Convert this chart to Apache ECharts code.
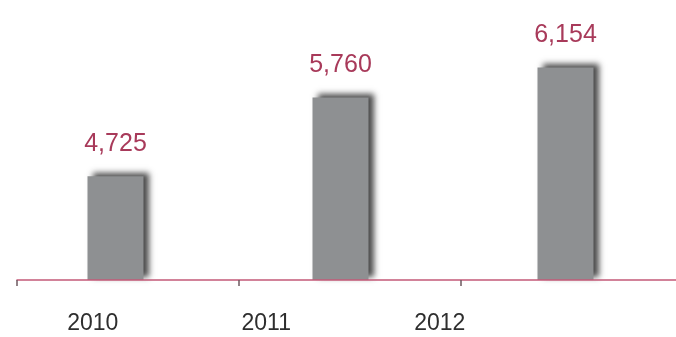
<!DOCTYPE html>
<html>
<head>
<meta charset="utf-8">
<script src="https://cdn.jsdelivr.net/npm/echarts@6/dist/echarts.min.js"></script>
<style>
html,body{margin:0;padding:0;background:#fff;}
#chart{width:676px;height:337px;}
</style>
</head>
<body>
<div id="chart"></div>
<script>
var years = ['2010', '2011', '2012'];
var values = [4725, 5760, 6154];
var axisSlots = ['2010', '2011', '2012', ''];

function fmt(v) {
  return String(v).replace(/\B(?=(\d{3})+(?!\d))/g, ',');
}

var chart = echarts.init(document.getElementById('chart'), null, {renderer: 'canvas'});
chart.setOption({
  backgroundColor: '#ffffff',
  animation: false,
  grid: [
    {left: 3, right: -2, top: 0, bottom: 57, outerBoundsMode: 'none'},
    {left: 17, right: -229, top: 0, bottom: 57, outerBoundsMode: 'none'},
    {left: 6, right: 149.5, top: 0, bottom: 57, outerBoundsMode: 'none'}
  ],
  xAxis: [
    {gridIndex: 0, type: 'category', data: years, show: false},
    {gridIndex: 1, type: 'category', data: axisSlots, z: 5,
      axisLine: {lineStyle: {color: '#c45a78', width: 1.5}},
      axisTick: {show: true, length: 6, lineStyle: {color: '#6e5a60', width: 1.5}},
      axisLabel: {show: false}},
    {gridIndex: 2, type: 'category', data: years,
      axisLine: {show: false}, axisTick: {show: false},
      axisLabel: {show: true, margin: 32, color: '#2e2e2e', fontSize: 23,
        fontFamily: 'Liberation Sans, Arial, sans-serif', lineHeight: 24}}
  ],
  yAxis: [
    {gridIndex: 0, type: 'value', min: 3360, max: 7040, show: false},
    {gridIndex: 1, type: 'value', show: false},
    {gridIndex: 2, type: 'value', show: false}
  ],
  series: [{
    type: 'bar',
    xAxisIndex: 0,
    yAxisIndex: 0,
    data: values,
    barWidth: 56,
    itemStyle: {
      color: '#8e9092',
      shadowColor: 'rgba(30,30,30,0.8)',
      shadowBlur: 6,
      shadowOffsetX: 5,
      shadowOffsetY: -3
    },
    label: {
      show: true,
      position: 'top',
      distance: 20,
      color: '#a83a5a',
      fontSize: 25,
      fontFamily: 'Liberation Sans, Arial, sans-serif',
      formatter: function (p) { return fmt(p.value); }
    }
  }]
});
</script>
</body>
</html>
